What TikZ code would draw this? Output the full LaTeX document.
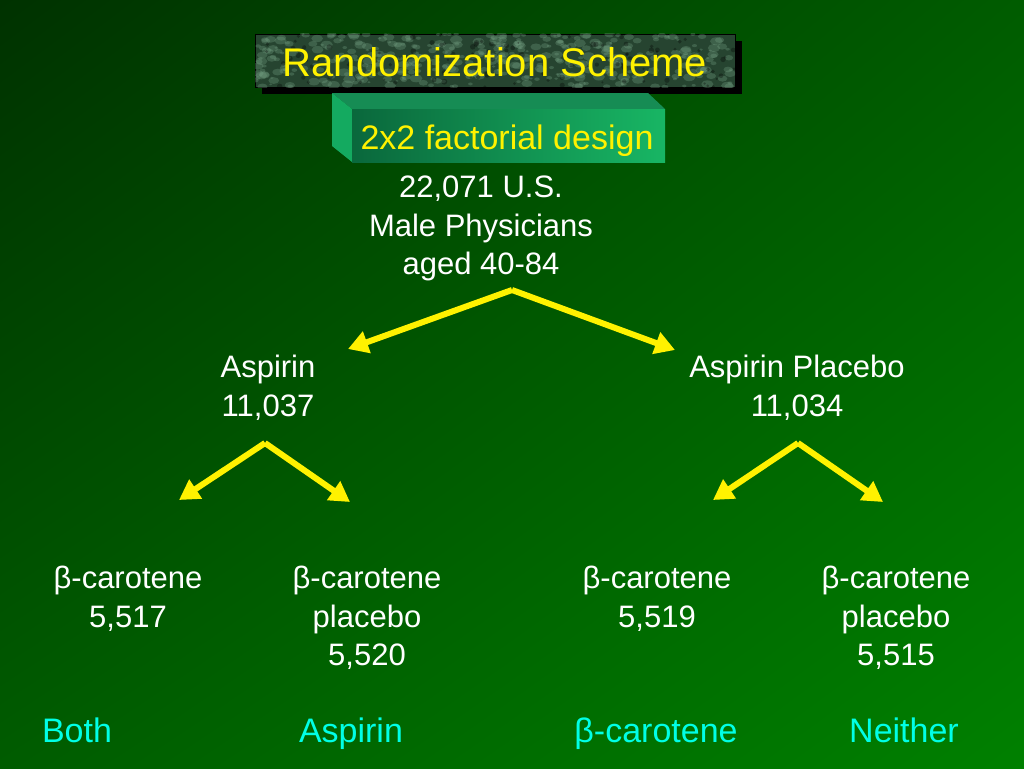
\documentclass[tikz,border=0pt]{standalone}
\usepackage{fontspec}
\setmainfont{Liberation Sans}
\usetikzlibrary{arrows.meta,shadings}
\definecolor{bgdark}{RGB}{0,50,0}
\definecolor{bgmid}{RGB}{0,92,0}
\definecolor{bgbright}{RGB}{0,128,0}
\definecolor{marble}{RGB}{38,68,48}
\definecolor{vein}{RGB}{120,165,135}
\definecolor{boxdark}{RGB}{10,104,60}
\definecolor{boxlight}{RGB}{24,182,100}
\definecolor{boxtop}{RGB}{22,140,84}
\definecolor{boxside}{RGB}{20,170,96}
\definecolor{groupcyan}{RGB}{0,255,230}
\tikzset{%
  every count/.style={
    text=white,
    align=center,
    inner sep=0pt,
    anchor=north,
    font=\fontsize{31}{38.5}\selectfont
  },
  every group/.style={
    text=groupcyan,
    inner sep=0pt,
    anchor=base,
    font=\fontsize{34}{40}\selectfont
  },
}

\begin{document}
\begin{tikzpicture}[x=1pt,y=-1pt]
    \tikzstyle{split}=[draw=yellow,line width=6pt,-{Triangle[length=20pt,width=22pt]}]
    \useasboundingbox (0,0) rectangle (1024,768);
    \shade[upper left=bgdark,upper right=bgmid,lower left=bgmid,lower right=bgbright] (0,0) rectangle (1024,768);
    % title
    \fill[black] (262,41) rectangle (742,94);
    \fill[marble,draw=black] (255,34) rectangle (735,87);
    \begin{scope}
        \clip (255,34) rectangle (735,87);
        \pgfmathsetseed{11}
        \foreach \i in {1,...,420}{
            \pgfmathsetmacro{\vx}{255+480*rnd}
            \pgfmathsetmacro{\vy}{34+53*rnd}
            \pgfmathsetmacro{\vr}{1+3*rnd}
            \fill[vein,opacity=0.3] (\vx,\vy) ellipse ({\vr*1.6} and \vr);
        }
        \foreach \i in {1,...,120}{
            \pgfmathsetmacro{\vx}{255+480*rnd}
            \pgfmathsetmacro{\vy}{34+53*rnd}
            \fill[black,opacity=0.3] (\vx,\vy) circle ({1+2*rnd});
        }
    \end{scope}
    \node[text=yellow,font=\fontsize{40}{44}\selectfont,inner sep=0pt,anchor=base] (title) at (495,76) {Randomization Scheme};
    % bevel box
    \fill[boxtop] (332,93) -- (648,93) -- (665,109) -- (352,109) -- cycle;
    \fill[boxside] (332,93) -- (352,109) -- (352,162) -- (332,146) -- cycle;
    \shade[left color=boxdark,right color=boxlight] (352,109) rectangle (665,162);
    \node[text=yellow,font=\fontsize{34}{38}\selectfont,inner sep=0pt,anchor=base] (design) at (507,149) {2x2 factorial design};
    % counts
    \node[every count] (all) at (481,176) {22,071 U.S.\\Male Physicians\\aged 40-84};
    \node[every count] (asa) at (268,355) {Aspirin\\11,037};
    \node[every count] (asaplac) at (797,355) {Aspirin Placebo\\11,034};
    \node[every count] (both) at (128,566) {β-carotene\\5,517};
    \node[every count] (asaonly) at (367,566) {β-carotene\\placebo\\5,520};
    \node[every count] (betaonly) at (657,566) {β-carotene\\5,519};
    \node[every count] (neither) at (896,566) {β-carotene\\placebo\\5,515};
    \node[every group] (gboth) at (77,742) {Both};
    \node[every group] (gasa) at (351,742) {Aspirin};
    \node[every group] (gbeta) at (656,742) {β-carotene};
    \node[every group] (gneither) at (904,742) {Neither};
    % arrows
    \coordinate (allfork) at (512,290);
    \coordinate (asafork) at (265,443);
    \coordinate (plfork) at (798,443);
    \coordinate (toasa) at (348,349);
    \coordinate (toplac) at (675,350);
    \coordinate (toboth) at (179,500);
    \coordinate (toasaonly) at (350,502);
    \coordinate (tobeta) at (713,500);
    \coordinate (toneither) at (883,502);
    \draw[split] (allfork) -- (toasa);
    \draw[split] (allfork) -- (toplac);
    \draw[split] (asafork) -- (toboth);
    \draw[split] (asafork) -- (toasaonly);
    \draw[split] (plfork) -- (tobeta);
    \draw[split] (plfork) -- (toneither);
\end{tikzpicture}
\end{document}
